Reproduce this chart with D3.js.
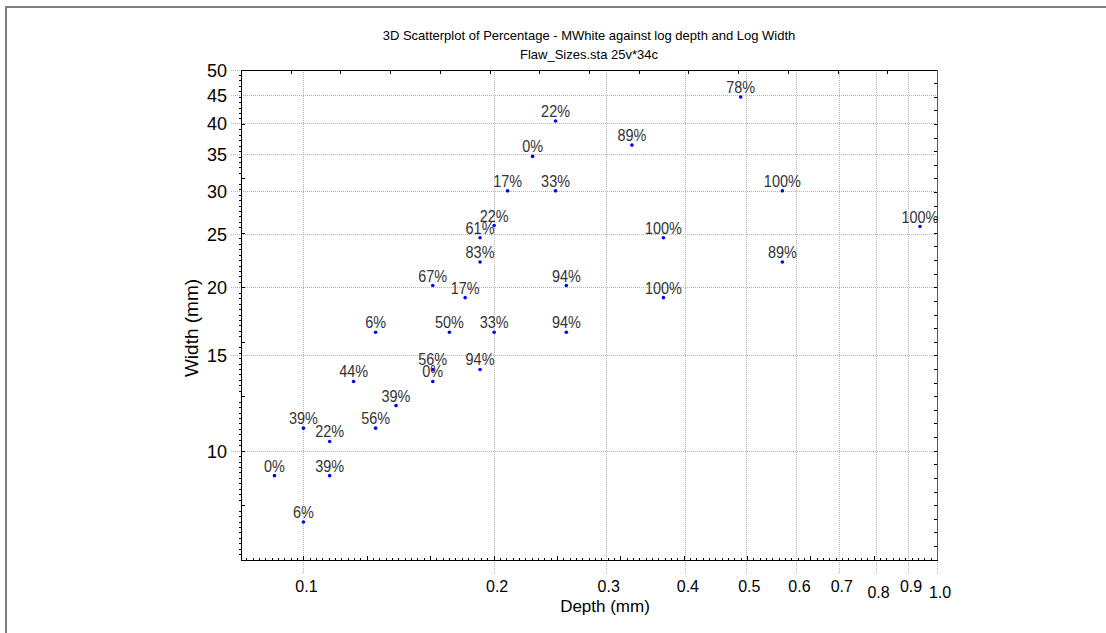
<!DOCTYPE html>
<html><head><meta charset="utf-8">
<script src="https://cdn.jsdelivr.net/npm/d3@7"></script>
<style>
body{margin:0;background:#fff;}
svg{display:block;}
text{font-family:"Liberation Sans",Arial,sans-serif;}
</style>
</head><body>
<svg id="c" width="1106" height="633"></svg>
<script>
// ---- data ----
const depth = [0.090,0.100,0.100,0.110,0.110,0.120,0.130,0.130,0.140,0.160,0.160,0.160,0.170,0.180,0.190,0.200,0.190,0.190,0.200,0.210,0.230,0.250,0.250,0.260,0.260,0.330,0.370,0.370,0.490,0.570,0.570,0.940];
const widthMM = [9.0,7.4,11.0,10.4,9.0,13.4,11.0,16.5,12.1,14.1,13.4,20.1,16.5,19.1,14.1,16.5,22.2,24.6,25.9,30.0,34.7,30.0,40.3,20.1,16.5,36.4,24.6,19.1,44.6,30.0,22.2,25.8];
const percentLabels = ["0%","6%","39%","22%","39%","44%","56%","6%","39%","56%","0%","67%","50%","17%","94%","33%","83%","61%","22%","17%","0%","33%","22%","94%","94%","89%","100%","100%","78%","100%","89%","100%"];
const xTickValues = [0.1,0.2,0.3,0.4,0.5,0.6,0.7,0.8,0.9,1.0];
const xTickLabels = ["0.1","0.2","0.3","0.4","0.5","0.6","0.7","0.8","0.9","1.0"];
const xTickLowered = ["0.8","1.0"];
const yTickValues = [10,15,20,25,30,35,40,45,50];
const yTickLabels = ["10","15","20","25","30","35","40","45","50"];
const titleText = "3D Scatterplot of Percentage - MWhite against log depth and Log Width";
const subtitleText = "Flaw_Sizes.sta 25v*34c";
const xTitle = "Depth (mm)";
const yTitle = "Width (mm)";

// ---- layout ----
const svg = d3.select("#c");
const L = 241, R = 937, T = 70, B = 560;
const x = d3.scaleLog().domain([0.0797, 1.0]).range([L, R]);
const y = d3.scaleLog().domain([6.3, 50]).range([B, T]);

// outer frame
svg.append("rect").attr("x",6).attr("y",7).attr("width",1200).attr("height",700)
  .attr("fill","none").attr("stroke","#808080").attr("stroke-width",2);

// titles
svg.append("text").attr("x",589).attr("y",40).attr("text-anchor","middle")
  .attr("font-size",13).attr("fill","#000").text(titleText);
svg.append("text").attr("x",589).attr("y",59).attr("text-anchor","middle")
  .attr("font-size",13).attr("fill","#000").text(subtitleText);

// grid
const grid = svg.append("g").attr("stroke","#b4b4b4").attr("stroke-dasharray","1,1").attr("stroke-width",1);
grid.selectAll("line.gx").data(xTickValues).join("line")
  .attr("x1",d=>Math.round(x(d))+0.5).attr("x2",d=>Math.round(x(d))+0.5)
  .attr("y1",T).attr("y2",B+13);
grid.selectAll("line.gy").data(yTickValues).join("line")
  .attr("y1",d=>Math.round(y(d))+0.5).attr("y2",d=>Math.round(y(d))+0.5)
  .attr("x1",L-10).attr("x2",R);

// ticks
const tk = svg.append("g").attr("stroke","#000").attr("stroke-width",1);
const lx0 = Math.log10(0.0797);
for (let k = Math.ceil(lx0*100); k <= 0; k++) {
  const v = Math.pow(10, k/100), px = Math.round(x(v))+0.5;
  const major = (k % 10 === 0);
  tk.append("line").attr("x1",px).attr("x2",px).attr("y1",B).attr("y2",B-(major?4:2));
}
const ly0 = Math.log10(6.3), ly1 = Math.log10(50);
for (let k = Math.ceil(ly0*100); k <= Math.floor(ly1*100); k++) {
  const v = Math.pow(10, k/100), py = Math.round(y(v))+0.5;
  if (k % 10 === 0) tk.append("line").attr("x1",L).attr("x2",L+4).attr("y1",py).attr("y2",py);
  else tk.append("line").attr("x1",L).attr("x2",L-2).attr("y1",py).attr("y2",py);
}
for (let i = 1; i < 14; i++) {
  const px = Math.round(L + i*(R-L)/14)+0.5;
  tk.append("line").attr("x1",px).attr("x2",px).attr("y1",T).attr("y2",T+4);
}
for (let k = Math.ceil(ly0*40); k <= Math.floor(ly1*40); k++) {
  const py = Math.round(y(Math.pow(10,k/40)))+0.5;
  tk.append("line").attr("x1",R).attr("x2",R-3).attr("y1",py).attr("y2",py);
}

// plot box
svg.append("line").attr("x1",L).attr("x2",R).attr("y1",T+0.5).attr("y2",T+0.5).attr("stroke","#000");
svg.append("line").attr("x1",L).attr("x2",R+1).attr("y1",B+0.5).attr("y2",B+0.5).attr("stroke","#000");
svg.append("line").attr("x1",L+0.5).attr("x2",L+0.5).attr("y1",T).attr("y2",B).attr("stroke","#000");
svg.append("line").attr("x1",R+0.5).attr("x2",R+0.5).attr("y1",T).attr("y2",B).attr("stroke","#555");

// tick labels
svg.append("g").selectAll("text").data(xTickValues).join("text")
  .attr("x",d=>x(d)+3).attr("y",(d,i)=>xTickLowered.includes(xTickLabels[i])?598:592)
  .attr("text-anchor","middle").attr("font-size",16).attr("fill","#000")
  .text((d,i)=>xTickLabels[i]);
svg.append("g").selectAll("text").data(yTickValues).join("text")
  .attr("x",227).attr("y",d=>y(d)+7)
  .attr("text-anchor","end").attr("font-size",18).attr("fill","#000")
  .text((d,i)=>yTickLabels[i]);

// axis titles
svg.append("text").attr("x",605).attr("y",612).attr("text-anchor","middle")
  .attr("font-size",17).attr("fill","#000").text(xTitle);
svg.append("text").attr("transform","translate(198,328) rotate(-90)").attr("text-anchor","middle")
  .attr("font-size",19).attr("fill","#000").text(yTitle);

// points
const pts = depth.map((d,i)=>({d, w: widthMM[i], p: percentLabels[i]}));
svg.append("g").selectAll("circle").data(pts).join("circle")
  .attr("cx",d=>x(d.d)).attr("cy",d=>y(d.w)).attr("r",1.8).attr("fill","#0000ff");
svg.append("g").selectAll("text").data(pts).join("text")
  .attr("transform",d=>`translate(${x(d.d)},${y(d.w)-4}) scale(0.85,1)`)
  .attr("text-anchor","middle").attr("font-size",17).attr("fill","#333")
  .text(d=>d.p);
</script>
</body></html>
